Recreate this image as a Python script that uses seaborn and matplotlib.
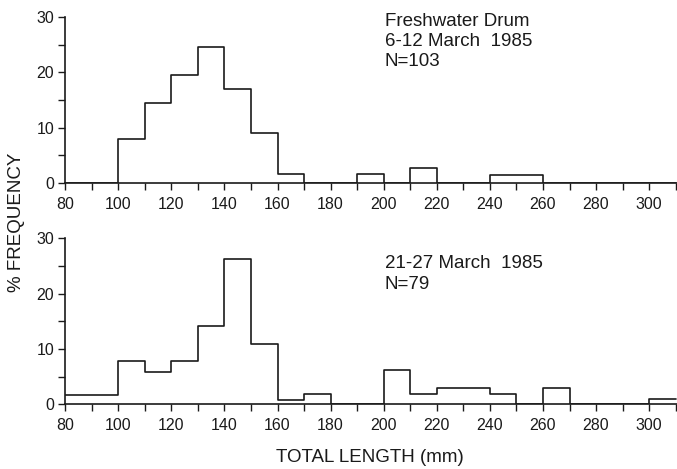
import numpy as np
import pandas as pd
import seaborn as sns
import matplotlib
matplotlib.use("Agg")
import matplotlib.pyplot as plt
from matplotlib.ticker import MultipleLocator

# Data: length bins (lower edge, mm) and % frequency
bin_lower = [80, 90, 100, 110, 120, 130, 140, 150, 160, 170, 180, 190,
             200, 210, 220, 230, 240, 250, 260, 270, 280, 290, 300]
pct_march_6_12 = [0, 0, 8.0, 14.5, 19.6, 24.6, 17.0, 9.0, 1.6, 0, 0, 1.6,
                  0, 2.7, 0, 0, 1.5, 1.5, 0, 0, 0, 0, 0]
pct_march_21_27 = [1.7, 1.7, 7.9, 5.8, 7.8, 14.2, 26.3, 10.9, 0.7, 1.9, 0, 0,
                   6.2, 1.9, 2.9, 2.9, 1.9, 0, 2.9, 0, 0, 0, 0.9]
x_ticks = [80, 100, 120, 140, 160, 180, 200, 220, 240, 260, 280, 300]
y_ticks = [0, 10, 20, 30]
labels_top = ["Freshwater Drum", "6-12 March  1985", "N=103"]
labels_bottom = ["21-27 March  1985", "N=79"]

sns.set_style("ticks")
plt.rcParams['font.family'] = ['Liberation Sans', 'DejaVu Sans']

fig = plt.figure(figsize=(6.77, 4.69), dpi=100)
ax1 = fig.add_axes([0.0963, 0.6098, 0.9037, 0.354])
ax2 = fig.add_axes([0.0963, 0.138, 0.9037, 0.354])

edges = list(range(80, 320, 10))
ink = "#1a1a1a"

for ax, vals in [(ax1, pct_march_6_12), (ax2, pct_march_21_27)]:
    df = pd.DataFrame({"length": np.array(bin_lower) + 5, "pct": vals})
    sns.histplot(data=df, x="length", weights="pct", bins=edges,
                 element="step", fill=False, color=ink, linewidth=1.2, ax=ax)
    ax.set_xlim(80, 310.5)
    ax.set_ylim(0, 30)
    ax.set_xticks(x_ticks)
    ax.xaxis.set_minor_locator(MultipleLocator(10))
    ax.set_yticks(y_ticks)
    ax.yaxis.set_minor_locator(MultipleLocator(5))
    ax.tick_params(axis="both", which="major", labelsize=11.5, length=5,
                   width=1.0, color=ink, labelcolor=ink, direction="out")
    ax.tick_params(axis="both", which="minor", length=5, width=1.0,
                   color=ink, direction="out")
    ax.tick_params(axis="x", pad=5)
    ax.tick_params(axis="y", pad=3)
    ax.set_xlabel("")
    ax.set_ylabel("")
    sns.despine(ax=ax)
    ax.spines["left"].set_color(ink)
    ax.spines["bottom"].set_color(ink)
    ax.spines["left"].set_linewidth(1.2)
    ax.spines["bottom"].set_linewidth(1.2)
    ax.patch.set_alpha(0)

for i, t in enumerate(labels_top):
    fig.text(385 / 677, 1 - (21 + 20 * i) / 469, t, fontsize=13.5, color=ink,
             ha="left", va="center")
for i, t in enumerate(labels_bottom):
    fig.text(385 / 677, 1 - (264 + 20 * i) / 469, t, fontsize=13.5, color=ink,
             ha="left", va="center")

fig.text(17 / 677, 1 - 222 / 469, "% FREQUENCY", rotation=90, fontsize=13.5,
         color=ink, ha="center", va="center")
fig.text(370 / 677, 1 - 457 / 469, "TOTAL LENGTH (mm)", fontsize=13.5,
         color=ink, ha="center", va="center")

fig.savefig("out.png", dpi=100)
